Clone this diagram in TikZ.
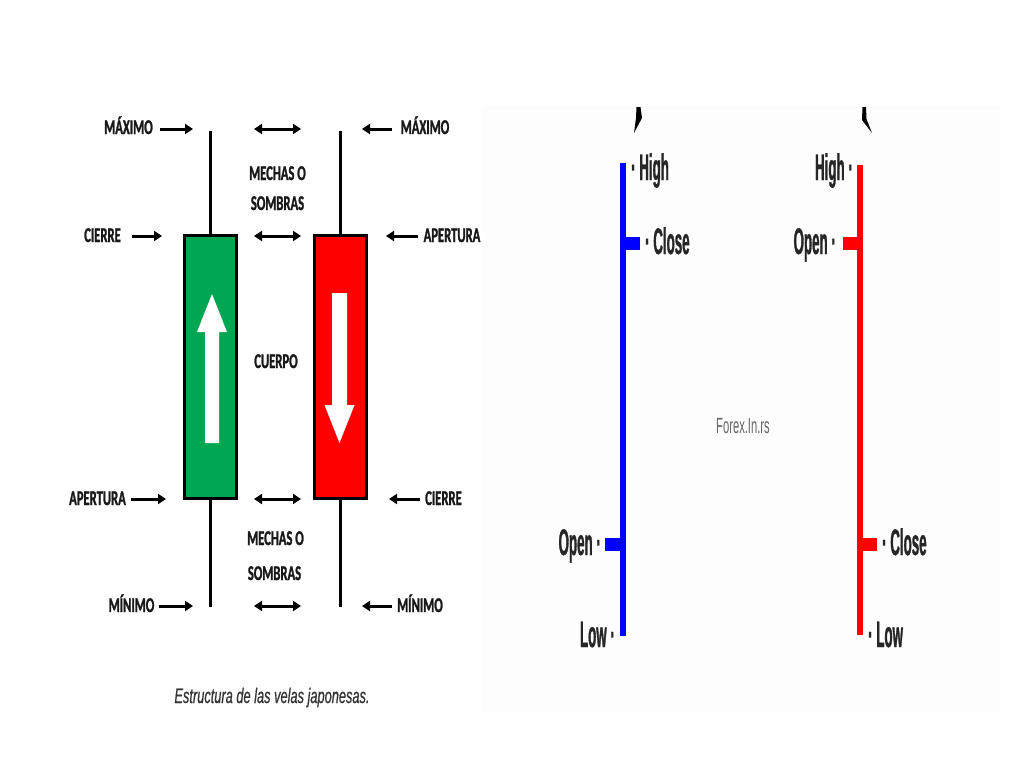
\documentclass[tikz,border=0pt]{standalone}
\usepackage{fontspec}
\usetikzlibrary{arrows.meta}
\newfontfamily\lblfont[FakeStretch=0.60,FakeBold=1.2]{Carlito}
\newfontfamily\ohlcfont[FakeStretch=0.36,FakeBold=0.8]{Liberation Sans}
\newfontfamily\capfont[FakeStretch=0.61,FakeBold=0.6]{Liberation Sans}
\newfontfamily\wmfont[FakeStretch=0.51]{Liberation Sans}
\definecolor{candlegreen}{RGB}{0,166,81}
\definecolor{candlered}{RGB}{255,0,0}
\definecolor{panelbg}{RGB}{253,253,253}
\definecolor{ohlcblue}{RGB}{0,0,255}
\begin{document}
\begin{tikzpicture}[x=1pt,y=-1pt,
  lbl/.style={font=\lblfont\bfseries\fontsize{21}{23}\selectfont, inner sep=0, anchor=base, text=black!90},
  ptr/.style={line width=3pt, -{Triangle[length=8pt,width=10pt]}},
  dptr/.style={line width=3pt, {Triangle[length=8pt,width=10pt]}-{Triangle[length=8pt,width=10pt]}},
  wick/.style={line width=3pt},
  body/.style={draw=black, line width=3pt, minimum width=52pt, minimum height=263pt, inner sep=0},
  ohlc/.style={font=\ohlcfont\bfseries\fontsize{37}{40}\selectfont, inner sep=0, text=black!85},
  ohlcline/.style={line width=6pt}]
\useasboundingbox (0,0) rectangle (1013,764);
\fill[white] (0,0) rectangle (1013,764);
% right panel background
\fill[panelbg] (483,106) rectangle (1000,712);

% ---------------- left: candlesticks ----------------
\coordinate (gHigh) at (210.5,131);
\coordinate (gLow) at (210.5,607);
\coordinate (rHigh) at (340.5,131);
\coordinate (rLow) at (340.5,607);
\node[body, fill=candlegreen] (gbody) at (210.5,367) {};
\node[body, fill=candlered] (rbody) at (340.5,367) {};
\draw[wick] (gHigh) -- (gbody.north);
\draw[wick] (gbody.south) -- (gLow);
\draw[wick] (rHigh) -- (rbody.north);
\draw[wick] (rbody.south) -- (rLow);
% white arrows
\fill[white] (205,443) -- (205,332) -- (197,332) -- (212,294) -- (227,332) -- (219,332) -- (219,443) -- cycle;
\fill[white] (332,293) -- (347,293) -- (347,405) -- (354.5,405) -- (339.5,443) -- (324.5,405) -- (332,405) -- cycle;

% labels
\node[lbl] (maxL) at (128.5,134) {MÁXIMO};
\node[lbl] (maxR) at (425,134) {MÁXIMO};
\node[lbl] (cieL) at (102.5,242) {CIERRE};
\node[lbl] (apeR) at (452,242) {APERTURA};
\node[lbl] (mech1) at (277.5,180) {MECHAS O};
\node[lbl] (somb1) at (277.5,210) {SOMBRAS};
\node[lbl] (cuerpo) at (276,368) {CUERPO};
\node[lbl] (apeL) at (97.5,505) {APERTURA};
\node[lbl] (cieR) at (443.5,505) {CIERRE};
\node[lbl] (mech2) at (275.5,545) {MECHAS O};
\node[lbl] (somb2) at (274.5,580) {SOMBRAS};
\node[lbl] (minL) at (131.5,612) {MÍNIMO};
\node[lbl] (minR) at (420,612) {MÍNIMO};

% pointer coordinates
\coordinate (a1s) at (160,129); \coordinate (a1e) at (193,129);
\coordinate (a2s) at (392,129); \coordinate (a2e) at (362,129);
\coordinate (a3s) at (132,236); \coordinate (a3e) at (162,236);
\coordinate (a4s) at (418,236); \coordinate (a4e) at (386,236);
\coordinate (a5s) at (131,499); \coordinate (a5e) at (166,499);
\coordinate (a6s) at (420,499); \coordinate (a6e) at (389,499);
\coordinate (a7s) at (159,606); \coordinate (a7e) at (193,606);
\coordinate (a8s) at (392,606); \coordinate (a8e) at (362,606);
\draw[ptr] (a1s) -- (a1e);
\draw[ptr] (a2s) -- (a2e);
\draw[ptr] (a3s) -- (a3e);
\draw[ptr] (a4s) -- (a4e);
\draw[ptr] (a5s) -- (a5e);
\draw[ptr] (a6s) -- (a6e);
\draw[ptr] (a7s) -- (a7e);
\draw[ptr] (a8s) -- (a8e);
% double arrows
\coordinate (d1a) at (254,129); \coordinate (d1b) at (301,129);
\coordinate (d2a) at (254,236); \coordinate (d2b) at (301,236);
\coordinate (d3a) at (254,499); \coordinate (d3b) at (301,499);
\coordinate (d4a) at (254,606); \coordinate (d4b) at (301,606);
\draw[dptr] (d1a) -- (d1b);
\draw[dptr] (d2a) -- (d2b);
\draw[dptr] (d3a) -- (d3b);
\draw[dptr] (d4a) -- (d4b);

\node[font=\capfont\itshape\fontsize{21}{24}\selectfont, text=black!80, inner sep=0, anchor=base] (cap) at (272,703) {Estructura de las velas japonesas.};

% ---------------- right: OHLC bars ----------------
% cut-off marks at the top
\fill[black] (636.5,107) -- (640.5,107) -- (642,118) -- (634,133) -- (636,118) -- cycle;
\fill[black] (862.5,107) -- (866,107) -- (866.5,119) -- (872,133) -- (862,120) -- cycle;

\coordinate (bTop) at (623,163);
\coordinate (bBot) at (623,636);
\coordinate (rTop) at (860,165);
\coordinate (rBot) at (860,635);
\draw[ohlcline, ohlcblue] (bTop) -- (bBot);
\draw[ohlcline, candlered] (rTop) -- (rBot);
\fill[ohlcblue] (623,237) rectangle (640,250);
\fill[ohlcblue] (605,538) rectangle (623,551);
\fill[candlered] (843,237) rectangle (860,250);
\fill[candlered] (860,538) rectangle (877,551);

\node[ohlc, anchor=base west] (bHigh) at (631,180) {· High};
\node[ohlc, anchor=base west] (bClose) at (645,254) {· Close};
\node[ohlc, anchor=base east] (bOpen) at (601,555) {Open ·};
\node[ohlc, anchor=base east] (bLow) at (615,647) {Low ·};
\node[ohlc, anchor=base east] (rHighL) at (853,180) {High ·};
\node[ohlc, anchor=base east] (rOpen) at (836,254) {Open ·};
\node[ohlc, anchor=base west] (rClose) at (882,555) {· Close};
\node[ohlc, anchor=base west] (rLowL) at (868,647) {· Low};

\node[font=\wmfont\fontsize{22}{24}\selectfont, text=black!60, inner sep=0, anchor=base] (wm) at (743,433) {Forex.In.rs};
\end{tikzpicture}
\end{document}
